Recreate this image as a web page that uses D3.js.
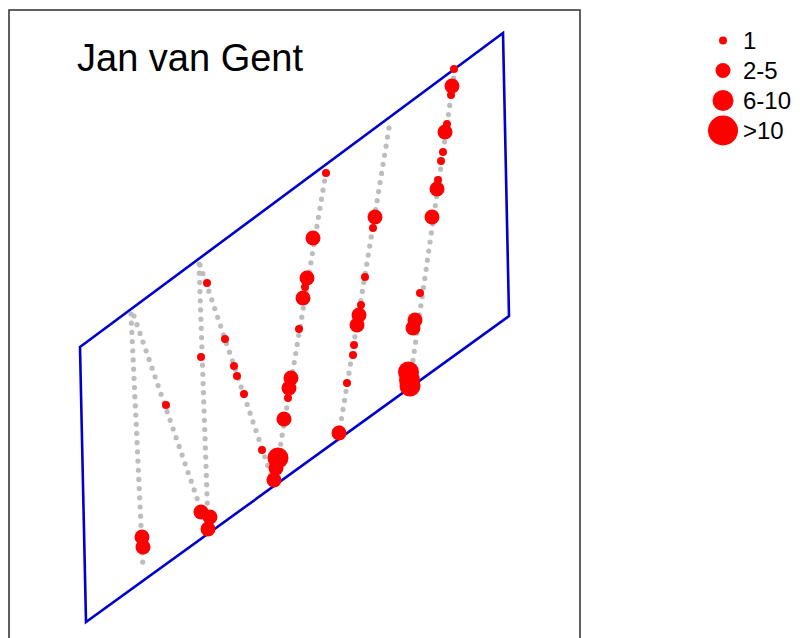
<!DOCTYPE html>
<html>
<head>
<meta charset="utf-8">
<script src="https://cdn.jsdelivr.net/npm/d3@7/dist/d3.min.js"></script>
<style>
  html, body { margin: 0; padding: 0; background: #fff; }
  svg { display: block; font-family: "Liberation Sans", Arial, sans-serif; }
</style>
</head>
<body>
<svg id="chart" width="800" height="638"></svg>
<script>
// Species shown on the map
const speciesName = "Jan van Gent";

// Survey area outline (easting, northing in km)
const areaEast  = [7.1, 49.4, 50.0, 7.7];
const areaNorth = [30.1, 61.5, 33.2, 2.6];

// Survey transects: start and end points (km)
const transectStartE = [12.2, 12.5, 19.0, 19.1, 31.7, 38.0, 44.6];
const transectStartN = [33.4, 33.2, 38.4, 38.3, 47.6, 52.0, 57.9];
const transectEndE   = [13.4, 19.7, 19.9, 26.5, 26.5, 33.0, 40.0];
const transectEndN   = [8.0, 12.4, 12.4, 16.4, 16.4, 21.4, 26.0];

// Sightings: position (km) and number of birds
const sightE = [
  13.3, 13.4,
  15.7, 19.2, 20.1, 19.9,
  19.2,
  19.8, 21.6, 22.5, 22.8, 23.5, 25.3,
  26.9, 26.7, 26.5,
  31.7, 30.4, 29.8, 29.6, 29.4, 29.0, 28.2, 28.0, 27.9, 27.5,
  36.6, 36.4, 35.6, 35.2, 35.0, 34.8, 34.5, 34.4, 33.8, 33.0,
  44.5, 44.3, 44.2, 43.8, 43.6, 43.4, 43.2, 42.9, 42.8, 42.3,
  41.1, 40.6, 40.4, 39.95, 40.05, 40.1
];
const sightN = [
  11.1, 10.1,
  24.3, 13.6, 13.1, 11.9,
  29.1,
  36.5, 30.9, 28.2, 27.2, 25.4, 19.8,
  19.0, 18.0, 16.8,
  47.5, 41.0, 37.0, 36.1, 35.0, 31.9, 27.0, 26.0, 25.0, 22.9,
  43.1, 42.0, 37.1, 34.3, 33.3, 32.3, 30.3, 29.3, 26.5, 21.5,
  57.9, 56.2, 55.3, 52.4, 51.6, 49.6, 48.7, 46.8, 45.9, 43.1,
  35.5, 32.8, 32.0, 27.6, 26.8, 26.2
];
const sightCount = [
  3, 2,
  1, 3, 2, 4,
  1,
  1, 1, 1, 1, 1, 1,
  8, 3, 4,
  1, 3, 2, 1, 3, 1, 2, 3, 1, 4,
  3, 1, 1, 1, 2, 2, 1, 1, 1, 5,
  1, 3, 1, 1, 4, 1, 1, 1, 2, 3,
  1, 3, 2, 7, 9, 6
];

// Size classes for the legend
const classLabels = ["1", "2-5", "6-10", ">10"];
const classCounts = [1, 3, 8, 15];

const svg = d3.select("#chart");

const x = d3.scaleLinear().domain([0, 57.1]).range([9, 580]);
const y = d3.scaleLinear().domain([0, 63.8]).range([648, 10]);
const radius = d3.scaleThreshold().domain([2, 6, 11]).range([4, 7.5, 10.5, 15]);

// Map frame
svg.append("rect")
  .attr("x", x(0)).attr("y", y(63.8))
  .attr("width", x(57.1) - x(0)).attr("height", 660)
  .attr("fill", "none").attr("stroke", "#3a3a3a").attr("stroke-width", 1.6);

// Survey area
const area = areaEast.map((e, i) => [x(e), y(areaNorth[i])]);
svg.append("path")
  .attr("d", d3.line()(area) + "Z")
  .attr("fill", "none")
  .attr("stroke", "#0000cd")
  .attr("stroke-width", 2.6)
  .attr("stroke-linejoin", "miter");

// Transects as dotted grey tracks
const transects = transectStartE.map((e, i) => [
  [x(e), y(transectStartN[i])],
  [x(transectEndE[i]), y(transectEndN[i])]
]);
svg.append("g").selectAll("path").data(transects).join("path")
  .attr("d", d => d3.line()(d))
  .attr("fill", "none")
  .attr("stroke", "#bdbdbd")
  .attr("stroke-width", 5.2)
  .attr("stroke-linecap", "round")
  .attr("stroke-dasharray", "0 9.2");

// Sightings
const sightings = sightE.map((e, i) => ({ e, n: sightN[i], c: sightCount[i] }));
svg.append("g").selectAll("circle").data(sightings).join("circle")
  .attr("cx", d => x(d.e))
  .attr("cy", d => y(d.n))
  .attr("r", d => radius(d.c))
  .attr("fill", "#ff0000");

// Title
svg.append("text")
  .attr("x", 77).attr("y", 71)
  .attr("font-size", 38)
  .attr("fill", "#000")
  .text(speciesName);

// Legend
const legend = svg.append("g");
const legendY = d3.scalePoint().domain(classLabels).range([40.5, 130.5]);
legend.selectAll("circle").data(classLabels).join("circle")
  .attr("cx", 723)
  .attr("cy", d => legendY(d))
  .attr("r", (d, i) => radius(classCounts[i]))
  .attr("fill", "#ff0000");
legend.selectAll("text").data(classLabels).join("text")
  .attr("x", 743)
  .attr("y", d => legendY(d) + 8.6)
  .attr("font-size", 24)
  .attr("fill", "#000")
  .text(d => d);
</script>
</body>
</html>
